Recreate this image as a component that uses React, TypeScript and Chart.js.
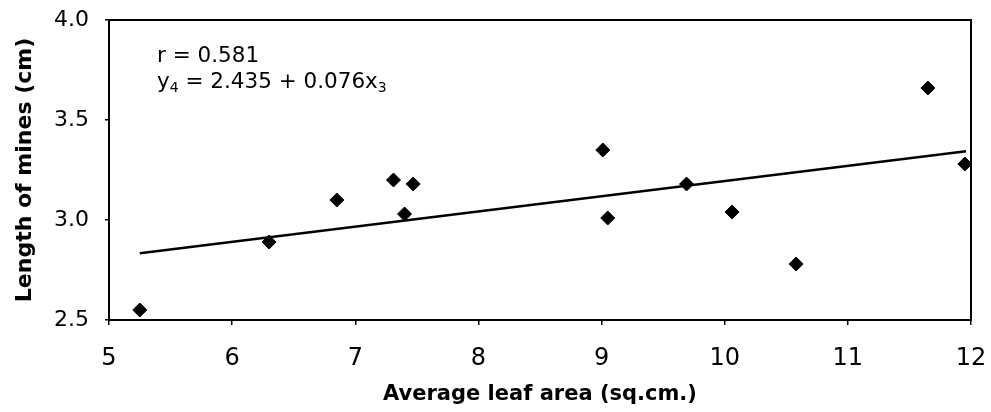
import React, { useEffect, useRef } from 'react';
import { Chart, registerables } from 'chart.js';

Chart.register(...registerables);

// Data
const leafArea = [5.25, 6.30, 6.85, 7.31, 7.40, 7.47, 9.01, 9.05, 9.69, 10.06, 10.58, 11.65, 11.95];
const mineLength = [2.55, 2.89, 3.10, 3.20, 3.03, 3.18, 3.35, 3.01, 3.18, 3.04, 2.78, 3.66, 3.28];
const fitLineX = [5.25, 11.96];
const fitLineY = [2.834, 3.344];

const xTicks = [5, 6, 7, 8, 9, 10, 11, 12];
const yTicks = [2.5, 3.0, 3.5, 4.0];

const xTitle = 'Average leaf area (sq.cm.)';
const yTitle = 'Length of mines (cm)';
const statLine1 = 'r = 0.581';
const statLine2Parts: { t: string; sub: boolean }[] = [
  { t: 'y', sub: false },
  { t: '4', sub: true },
  { t: ' = 2.435 + 0.076x', sub: false },
  { t: '3', sub: true },
];

const FONT = '"DejaVu Sans", "Liberation Sans", Arial, sans-serif';

const framePlugin = {
  id: 'frameAndText',
  afterDraw(chart: any) {
    const { ctx, chartArea } = chart;
    ctx.save();
    ctx.strokeStyle = '#000';
    ctx.lineWidth = 2;
    ctx.strokeRect(chartArea.left, chartArea.top, chartArea.right - chartArea.left, chartArea.bottom - chartArea.top);

    ctx.fillStyle = '#000';
    ctx.textBaseline = 'alphabetic';
    ctx.textAlign = 'left';
    const x0 = chartArea.left + 48;
    ctx.font = `21.5px ${FONT}`;
    ctx.fillText(statLine1, x0, chartArea.top + 42);
    let x = x0;
    const base = chartArea.top + 68;
    for (const p of statLine2Parts) {
      if (p.sub) {
        ctx.font = `14px ${FONT}`;
        ctx.fillText(p.t, x, base + 4);
      } else {
        ctx.font = `21.5px ${FONT}`;
        ctx.fillText(p.t, x, base);
      }
      x += ctx.measureText(p.t).width;
    }
    ctx.restore();
  },
};

export default function App() {
  const ref = useRef<HTMLCanvasElement | null>(null);

  useEffect(() => {
    if (!ref.current) return;
    const chart = new Chart(ref.current, {
      type: 'scatter',
      data: {
        datasets: [
          {
            type: 'scatter',
            label: 'Observed',
            data: leafArea.map((v, i) => ({ x: v, y: mineLength[i] })),
            pointStyle: 'rectRot',
            pointRadius: 7,
            pointHoverRadius: 7,
            backgroundColor: '#000',
            borderColor: '#000',
            borderWidth: 1,
            order: 1,
          },
          {
            type: 'line',
            label: 'Fit',
            data: fitLineX.map((v, i) => ({ x: v, y: fitLineY[i] })),
            borderColor: '#000',
            borderWidth: 2.4,
            pointRadius: 0,
            fill: false,
            order: 2,
          },
        ],
      },
      options: {
        responsive: false,
        animation: false,
        events: [],
        layout: { padding: { top: 20, right: 20, left: 0, bottom: 0 } },
        plugins: {
          legend: { display: false },
          tooltip: { enabled: false },
        },
        scales: {
          x: {
            type: 'linear',
            min: 5,
            max: 12,
            afterFit(scale: any) {
              scale.height = 92;
              scale.paddingLeft = 0;
              scale.paddingRight = 0;
            },
            afterBuildTicks(scale: any) {
              scale.ticks = xTicks.map((v) => ({ value: v }));
            },
            ticks: {
              color: '#000',
              font: { family: FONT, size: 24 },
              padding: 19,
              maxRotation: 0,
              callback: (v: any) => String(v),
            },
            grid: { display: true, drawOnChartArea: false, drawTicks: true, tickLength: 5, color: '#000', lineWidth: 1.5 },
            border: { display: true, color: '#000', width: 2 },
            title: {
              display: true,
              text: xTitle,
              color: '#000',
              font: { family: FONT, size: 21, weight: 'bold' },
              padding: { top: 0, bottom: 5 },
            },
          },
          y: {
            type: 'linear',
            min: 2.5,
            max: 4,
            afterFit(scale: any) {
              scale.width = 109;
              scale.paddingTop = 0;
              scale.paddingBottom = 0;
            },
            afterBuildTicks(scale: any) {
              scale.ticks = yTicks.map((v) => ({ value: v }));
            },
            ticks: {
              color: '#000',
              font: { family: FONT, size: 22 },
              padding: 16,
              callback: (v: any) => Number(v).toFixed(1),
            },
            grid: { display: true, drawOnChartArea: false, drawTicks: true, tickLength: 4, color: '#000', lineWidth: 1.5 },
            border: { display: true, color: '#000', width: 2 },
            title: {
              display: true,
              text: yTitle,
              color: '#000',
              font: { family: FONT, size: 22, weight: 'bold' },
              padding: { top: 12, bottom: 0 },
            },
          },
        },
      },
      plugins: [framePlugin],
    });
    return () => chart.destroy();
  }, []);

  return (
    <div style={{ position: 'absolute', left: 0, top: 0, width: 991, height: 412, background: '#fff' }}>
      <canvas ref={ref} width={991} height={412} style={{ display: 'block', width: 991, height: 412 }} />
    </div>
  );
}
